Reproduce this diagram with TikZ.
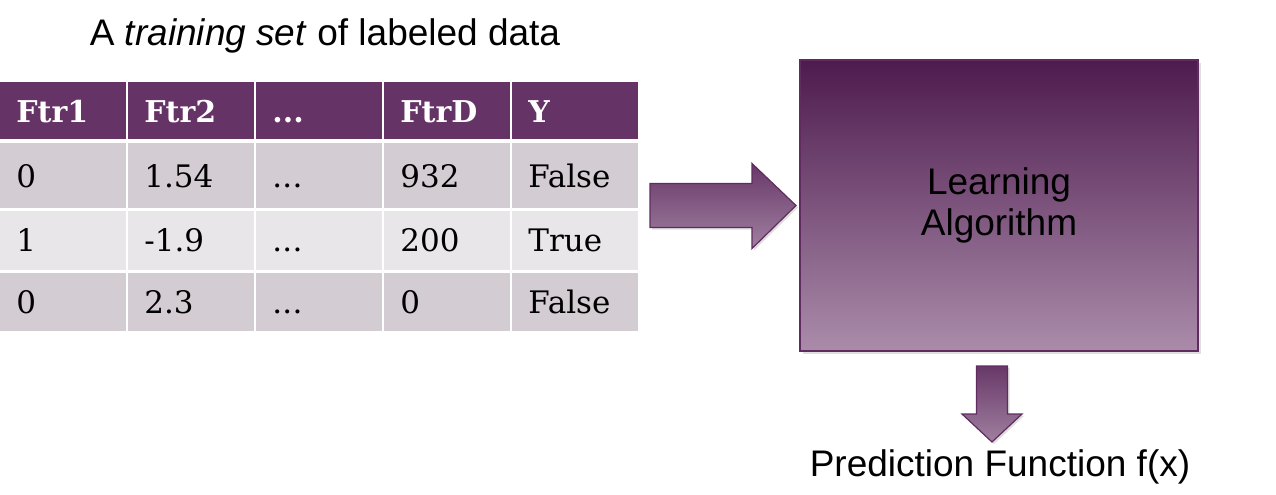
\documentclass[tikz,border=0pt]{standalone}
\usepackage{fontspec}
\setmainfont{Liberation Sans}
\newfontfamily\tablefont{DejaVu Serif}
\usetikzlibrary{positioning}
\usetikzlibrary{shadows}
\usetikzlibrary{calc}
\definecolor{plum}{RGB}{102,51,102}
\definecolor{rowdark}{RGB}{211,204,211}
\definecolor{rowlight}{RGB}{233,230,233}
\definecolor{boxtop}{RGB}{78,27,78}
\definecolor{boxbot}{RGB}{170,140,170}
\definecolor{boxline}{RGB}{96,44,96}
\definecolor{arrowtop}{RGB}{104,56,104}
\definecolor{arrowbot}{RGB}{160,128,160}
\newcommand\threedots{\makebox[15pt][s]{.\hfil.\hfil.}}
\tikzstyle{cell}=[
        rectangle,
        anchor=north west,
        inner xsep=8pt,
        inner ysep=0pt,
        text width=47pt,
        text height=11.3pt,
        text depth=0pt,
        minimum width=63pt,
        align=left,
        font=\tablefont\fontsize{15.5}{18}\selectfont
]
\tikzstyle{head}=[cell,fill=plum,text=white,font=\tablefont\bfseries\fontsize{15}{18}\selectfont]
\tikzstyle{algobox}=[rectangle,draw=boxline,line width=1pt,top color=boxtop,bottom color=boxbot,
minimum width=199pt,minimum height=145.5pt,align=center,
drop shadow={opacity=0.25,shadow xshift=1.5pt,shadow yshift=-1.5pt},
font=\fontsize{18.5}{21.5}\selectfont]
\tikzstyle{caption}=[font=\fontsize{18.5}{21.5}\selectfont]
\tikzstyle{blockarrow}=[draw=boxline,line width=0.6pt,top color=arrowtop,bottom color=arrowbot,
drop shadow={opacity=0.25,shadow xshift=1pt,shadow yshift=-1pt}]

\begin{document}
\begin{tikzpicture}[x=0.5pt,y=-0.5pt]
\useasboundingbox (0,0) rectangle (1276,494);
\node[caption] (title) at (325,36) {A \textit{training set} of labeled data};
% table
\foreach \t [count=\c] in {Ftr1,Ftr2,\threedots,FtrD,Y}
  \node[head,minimum height=28.5pt] (h\c) at ({(\c-1)*128},82) {\t};
\foreach \r/\ry/\rh/\fc/\ca/\cb/\cd/\cy in {1/143/32.5pt/rowdark/0/1.54/932/False,
        2/210.5/29.5pt/rowlight/1/-1.9/200/True,
        3/272.5/29pt/rowdark/0/2.3/0/False}
  \foreach \t [count=\c] in {\ca,\cb,\threedots,\cd,\cy}
    \node[cell,fill=\fc,minimum height=\rh] (r\r c\c) at ({(\c-1)*128},\ry) {\t};
% learning box
\node[algobox] (algo) at (999,205.5) {\raisebox{2pt}{\shortstack{Learning\\Algorithm}}};
\node[caption] (pred) at (1000,467) {Prediction Function f(x)};
% block arrows
\coordinate (intip) at ($(algo.west)+(-3,0)$);
\path[blockarrow] ($(intip)+(-146,-22)$) -- ++(102,0) -- ++(0,-20) -- (intip)
  -- ++(-44,43) -- ++(0,-21) -- ++(-102,0) -- cycle;
\coordinate (outtop) at ($(algo.south)+(-7,14)$);
\path[blockarrow] ($(outtop)+(-15.5,0)$) -- ++(31,0) -- ++(0,48) -- ++(14.5,0)
  -- ($(outtop)+(0,76)$) -- ++(-30,-28) -- ++(14.5,0) -- cycle;
\end{tikzpicture}
\end{document}
